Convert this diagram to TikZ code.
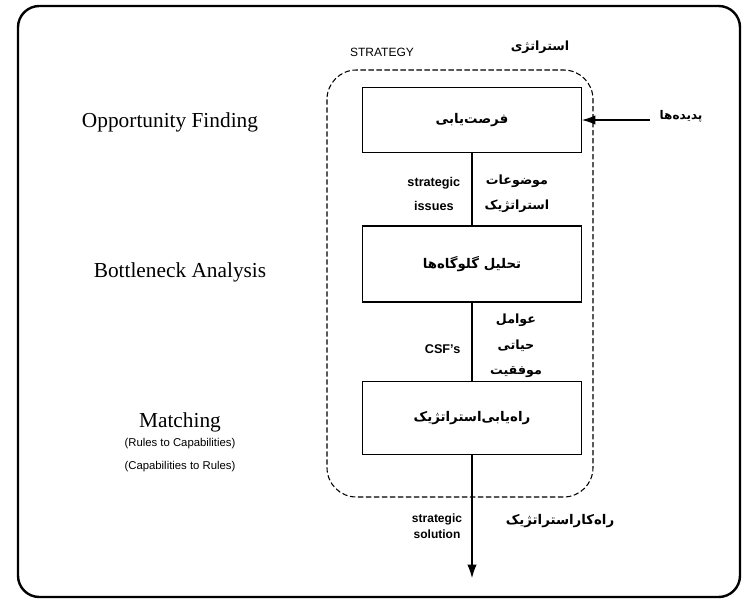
\documentclass[tikz,border=0pt]{standalone}
\usepackage{fontspec}
\setmainfont{Liberation Serif}
\setsansfont{Liberation Sans}
\newfontfamily\farsi[Script=Arabic]{DejaVu Sans}
\TeXXeTstate=1
\usetikzlibrary{arrows.meta}
\usetikzlibrary{positioning}

\tikzset{
  stagebox/.style={draw, line width=1pt, minimum width=164pt, minimum height=49pt,
    inner sep=0pt, font=\farsi\bfseries\fontsize{10}{12}\selectfont},
  phase/.style={font=\fontsize{16}{19}\selectfont},
  note/.style={font=\sffamily\fontsize{9.5}{18}\selectfont, align=center},
  fanote/.style={font=\farsi\bfseries\fontsize{9.5}{19}\selectfont, align=center},
  flow/.style={line width=0.8pt},
  tip/.style={-{Latex[length=10pt,width=7pt]}}
}

\begin{document}
\begin{tikzpicture}[x=0.75pt,y=-0.75pt]
\useasboundingbox (0,0) rectangle (743,604);

% frames
\draw[line width=1.8pt, rounded corners=16pt] (18,6) rectangle (740,597);
\draw[line width=0.8pt, dash pattern=on 4pt off 2pt, rounded corners=22pt] (327,70) rectangle (593,497);

\node[font=\sffamily\fontsize{9}{11}\selectfont] (strat) at (382,52) {STRATEGY};
\node[font=\farsi\bfseries\fontsize{9.5}{12}\selectfont] (stratfa) at (540,47) {\beginR استراتژی\endR};

% stages
\node[stagebox] (find) at (472,120) {\beginR فرصت‌یابی\endR};
\node[stagebox, minimum height=57pt] (neck) at (472,264) {\beginR تحلیل گلوگاه‌ها\endR};
\node[stagebox, minimum height=55pt] (match) at (472,418) {\beginR راه‌یابی‌استراتژیک\endR};
\coordinate (sol) at (472,578);
\coordinate (phen) at (650,120);

\draw[flow] (find) -- (neck);
\draw[flow] (neck) -- (match);
\draw[flow, tip] (match) -- (sol);
\draw[flow, tip] (phen) -- (find);

\node[font=\farsi\bfseries\fontsize{9}{12}\selectfont, anchor=west] (phenfa) at (655,116) {\beginR پدیده‌ها\endR};

% labels between the stages
\node[note, anchor=east, font=\sffamily\bfseries\fontsize{9.5}{18}\selectfont] (issues) at (465,194) {strategic\\issues};
\node[fanote, anchor=west] (issuesfa) at (480,194) {\beginR موضوعات\endR\\\beginR استراتژیک\endR};
\node[note, anchor=east, font=\sffamily\bfseries\fontsize{9.5}{18}\selectfont] (csf) at (465,349) {CSF's};
\node[fanote] (csffa) at (516,346) {\beginR عوامل\endR\\\beginR حیاتی\endR\\\beginR موفقیت\endR};
\node[note, font=\sffamily\bfseries\fontsize{9}{12}\selectfont] (solen) at (437,526) {strategic\\solution};
\node[font=\farsi\bfseries\fontsize{10}{12}\selectfont] (solfa) at (560,521) {\beginR راه‌کاراستراتژیک\endR};

% phases on the left
\node[phase] (opp) at (170,122) {Opportunity Finding};
\node[phase] (bott) at (180,272) {Bottleneck Analysis};
\node[phase] (matchen) at (180,422) {Matching};
\node[note, font=\sffamily\fontsize{8.5}{17}\selectfont, below=-2pt of matchen] (rules) {(Rules to Capabilities)\\(Capabilities to Rules)};
\end{tikzpicture}
\end{document}
